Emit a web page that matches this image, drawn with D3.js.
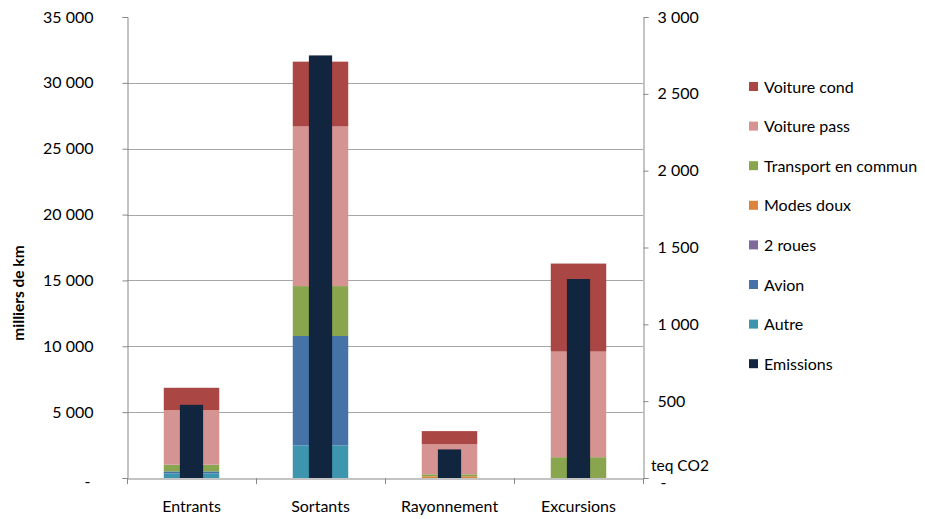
<!DOCTYPE html>
<html><head><meta charset="utf-8">
<script src="https://cdn.jsdelivr.net/npm/d3@7/dist/d3.min.js"></script>
<style>body{margin:0;background:#fff;}svg text{font-family:Lato,"Open Sans",sans-serif;fill:#000;}</style>
</head><body><svg id="c" width="925" height="519"></svg>
<script>
const categories = ["Entrants","Sortants","Rayonnement","Excursions"];
const seriesNames = ["Autre","Avion","2 roues","Modes doux","Transport en commun","Voiture pass","Voiture cond"];
const autre      = [350, 2480, 0, 0];
const avion      = [150, 8300, 0, 0];
const deuxRoues  = [0, 0, 0, 0];
const modesDoux  = [0, 0, 130, 0];
const transport  = [510, 3790, 150, 1580];
const voiturePass= [4150, 12120, 2280, 8020];
const voitureCond= [1690, 4920, 1000, 6680];
const emissions  = [476, 2750, 186, 1295];
const leftTicks  = [0,5000,10000,15000,20000,25000,30000,35000];
const rightTicks = [0,500,1000,1500,2000,2500,3000];
const legendOrder = ["Voiture cond","Voiture pass","Transport en commun","Modes doux","2 roues","Avion","Autre","Emissions"];
const colors = {"Voiture cond":"#AA4643","Voiture pass":"#D59392","Transport en commun":"#89A54E","Modes doux":"#DB843D","2 roues":"#80699B","Avion":"#4572A7","Autre":"#3D96AE","Emissions":"#11253F"};

const seriesVals = {"Autre":autre,"Avion":avion,"2 roues":deuxRoues,"Modes doux":modesDoux,"Transport en commun":transport,"Voiture pass":voiturePass,"Voiture cond":voitureCond};
const rows = categories.map((c,i)=>{const o={cat:c}; seriesNames.forEach(s=>o[s]=seriesVals[s][i]); return o;});

const svg = d3.select("#c");
const x0=127, x1=643, yTop=17, yBot=478;
const x = d3.scaleBand().domain(categories).range([x0,x1]).padding(0);
const yL = d3.scaleLinear().domain([0,35000]).range([yBot,yTop]);
const yR = d3.scaleLinear().domain([0,3000]).range([yBot,yTop]);
const fmt = v => v===0 ? "-" : d3.format(",")(v).replace(/,/g," ");

// gridlines
svg.append("g").selectAll("line").data(leftTicks.filter(t=>t>0 && t<35000)).join("line")
  .attr("x1",x0).attr("x2",x1).attr("y1",d=>Math.round(yL(d))+0.5).attr("y2",d=>Math.round(yL(d))+0.5)
  .attr("stroke","#A6A6A6").attr("stroke-width",1);

// stacked bars
const stack = d3.stack().keys(seriesNames)(rows);
const bw = x.bandwidth()*0.43;
svg.append("g").selectAll("g").data(stack).join("g").attr("fill",d=>colors[d.key])
  .selectAll("rect").data(d=>d).join("rect")
  .attr("x",d=>x(d.data.cat)+x.bandwidth()/2-bw/2).attr("width",bw)
  .attr("y",d=>yL(d[1])).attr("height",d=>Math.max(0,yL(d[0])-yL(d[1])));

// emissions bars
const ew = x.bandwidth()*0.18;
svg.append("g").selectAll("rect").data(categories).join("rect")
  .attr("x",d=>x(d)+x.bandwidth()/2-ew/2).attr("width",ew)
  .attr("y",(d,i)=>yR(emissions[i])).attr("height",(d,i)=>yBot-yR(emissions[i]))
  .attr("fill",colors["Emissions"]);

// left axis
const la = svg.append("g").attr("transform",`translate(${x0+0.5},0)`)
  .call(d3.axisLeft(yL).tickValues(leftTicks).tickFormat(fmt).tickSize(5).tickPadding(29));
la.select(".domain").attr("stroke","#888");
la.selectAll(".tick line").attr("stroke","#888");
la.selectAll("text").attr("font-size",16).attr("fill","#000");
la.selectAll(".tick text").filter(d=>d===0).attr("x",-37).attr("dy","0.55em");

// right axis
const ra = svg.append("g").attr("transform",`translate(${x1+0.5},0)`)
  .call(d3.axisRight(yR).tickValues(rightTicks).tickFormat(fmt).tickSize(5).tickPadding(9));
ra.select(".domain").attr("stroke","#888");
ra.selectAll(".tick line").attr("stroke","#888");
ra.selectAll("text").attr("font-size",16).attr("fill","#000");
ra.selectAll(".tick text").filter(d=>d===0).attr("dy","0.6em").attr("x",17);

// bottom axis
const ba = svg.append("g").attr("transform",`translate(0,${yBot+0.5})`)
  .call(d3.axisBottom(x).tickSize(0).tickPadding(22));
ba.select(".domain").attr("stroke","#888");
ba.selectAll("text").attr("font-size",16).attr("fill","#000");
svg.append("g").selectAll("line").data(d3.range(categories.length+1)).join("line")
  .attr("x1",i=>Math.round(x0+i*x.bandwidth())+0.5).attr("x2",i=>Math.round(x0+i*x.bandwidth())+0.5)
  .attr("y1",yBot).attr("y2",yBot+6).attr("stroke","#888");

// axis titles
svg.append("text").attr("transform","translate(24,293) rotate(-90)").attr("text-anchor","middle")
  .attr("font-size",15.5).attr("font-weight","bold").text("milliers de km");
svg.append("text").attr("x",651).attr("y",471).attr("font-size",15.5).text("teq CO2");

// legend
const lg = svg.append("g").selectAll("g").data(legendOrder).join("g")
  .attr("transform",(d,i)=>`translate(749,${87+i*39.6})`);
lg.append("rect").attr("x",0).attr("y",-5).attr("width",9).attr("height",9).attr("fill",d=>colors[d]);
lg.append("text").attr("x",15).attr("y",0).attr("dy","0.35em").attr("font-size",16).text(d=>d);
</script></body></html>
